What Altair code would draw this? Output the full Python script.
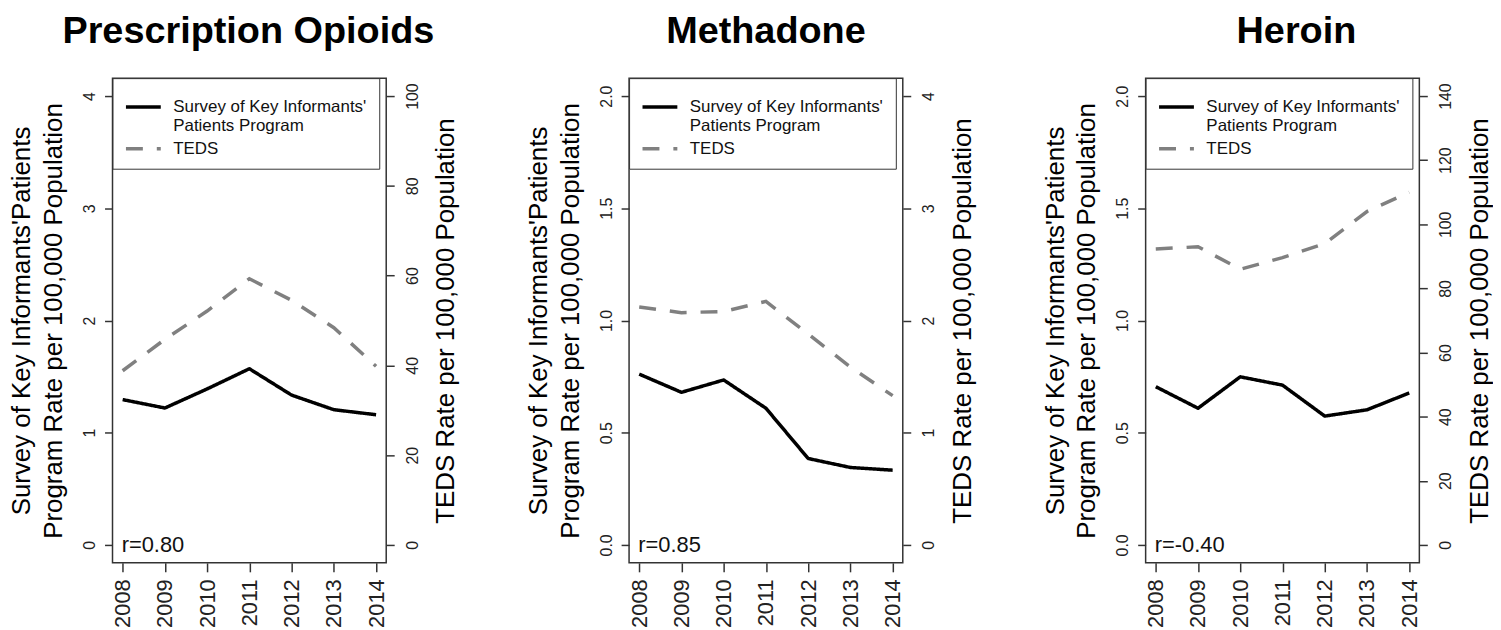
import altair as alt
import pandas as pd

years = [2008, 2009, 2010, 2011, 2012, 2013, 2014]
panel_titles = ["Prescription Opioids", "Methadone", "Heroin"]
title_dx = [-1, 0, 14]

survey_opioids = [1.295, 1.22, 1.39, 1.57, 1.335, 1.205, 1.16]
teds_opioids = [38.8, 45.8, 52.1, 59.3, 54.5, 48.4, 39.8]

survey_methadone = [0.761, 0.680, 0.735, 0.609, 0.385, 0.345, 0.333]
teds_methadone = [2.12, 2.07, 2.08, 2.17, 1.88, 1.585, 1.33]

survey_heroin = [0.705, 0.609, 0.749, 0.712, 0.574, 0.602, 0.677]
teds_heroin = [92.3, 93.0, 86.0, 89.6, 94.0, 104.0, 110.0]

r_labels = ["r=0.80", "r=0.85", "r=-0.40"]

left_ticks = [[0, 1, 2, 3, 4], [0, 0.5, 1.0, 1.5, 2.0], [0, 0.5, 1.0, 1.5, 2.0]]
left_formats = ["d", ".1f", ".1f"]
right_ticks = [[0, 20, 40, 60, 80, 100], [0, 1, 2, 3, 4], [0, 20, 40, 60, 80, 100, 120, 140]]

SURVEY = "Survey of Key Informants'"
TEDS = "TEDS"
left_title = ["Survey of Key Informants'Patients", "Program Rate per 100,000 Population"]
right_title = "TEDS Rate per 100,000 Population"

surveys = [survey_opioids, survey_methadone, survey_heroin]
teds_all = [teds_opioids, teds_methadone, teds_heroin]

FONT = "Liberation Sans"
W, H = 275, 487


def expand(lo, hi):
    d = (hi - lo) * 0.04
    return [lo - d, hi + d]


def panel(i):
    df_s = pd.DataFrame({"year": years, "rate": surveys[i], "series": SURVEY})
    df_t = pd.DataFrame({"year": years, "rate": teds_all[i], "series": TEDS})
    df_r = pd.DataFrame({"year": [years[0]], "rate": [0.0], "label": [r_labels[i]]})

    xenc = alt.X(
        "year:Q",
        scale=alt.Scale(domain=expand(2008, 2014), nice=False, zero=False),
        axis=alt.Axis(values=years, format="d", title=None, labelAngle=-90,
                      labelAlign="right", labelBaseline="middle", labelFontSize=22,
                      labelPadding=7, tickSize=9, labelOverlap=False, labelFlush=False),
    )
    color_scale = alt.Scale(domain=[SURVEY, TEDS], range=["#000000", "#808080"])
    dash_scale = alt.Scale(domain=[SURVEY, TEDS], range=[[1, 0], [17, 14]])
    legend = alt.Legend(
        orient="top-left", offset=0, padding=12, strokeColor="#333", fillColor="white",
        symbolType="M-1.75,0H1.75", symbolSize=400, symbolStrokeWidth=3.5,
        symbolOffset=7,
        labelFontSize=17, labelFont=FONT, labelColor="#111", labelLimit=400,
        labelOffset=18, rowPadding=3, title=" ", titleFontSize=3, titlePadding=2,
        labelExpr="datum.label == 'TEDS' ? 'TEDS' : [\"Survey of Key Informants'\", 'Patients Program']",
    )
    lt = left_ticks[i]
    yl = alt.Y(
        "rate:Q",
        scale=alt.Scale(domain=expand(lt[0], lt[-1]), nice=False, zero=False),
        axis=alt.Axis(values=lt, format=left_formats[i], title=left_title, orient="left",
                      labelAngle=-90, labelAlign="center", labelBaseline="bottom",
                      labelFontSize=16, labelPadding=7, tickSize=8, labelFlush=False,
                      labelOverlap=False, titleFontSize=26, titleLineHeight=32,
                      titleAngle=-90, titleAlign="center", titleBaseline="middle",
                      titleX=-91),
    )
    rt = right_ticks[i]
    yr = alt.Y(
        "rate:Q",
        scale=alt.Scale(domain=expand(rt[0], rt[-1]), nice=False, zero=False),
        axis=alt.Axis(values=rt, format="d", title=right_title, orient="right",
                      labelAngle=-90, labelAlign="center", labelBaseline="top",
                      labelFontSize=16, labelPadding=10, tickSize=8, labelFlush=False,
                      labelOverlap=False, titleFontSize=26,
                      titleAngle=-90, titleAlign="center", titleBaseline="middle",
                      titleX=60),
    )

    survey_line = alt.Chart(df_s).mark_line(strokeWidth=3.5, strokeJoin="round").encode(
        x=xenc, y=yl,
        color=alt.Color("series:N", scale=color_scale, legend=legend),
        strokeDash=alt.StrokeDash("series:N", scale=dash_scale, legend=legend),
    )
    r_text = alt.Chart(df_r).mark_text(align="left", baseline="middle", fontSize=22,
                                       font=FONT, color="#111", dx=-1).encode(
        x=alt.X("year:Q"), y=alt.Y("rate:Q"), text="label:N")
    teds_line = alt.Chart(df_t).mark_line(strokeWidth=3.5).encode(
        x=xenc, y=yr,
        color=alt.Color("series:N", scale=color_scale, legend=legend),
        strokeDash=alt.StrokeDash("series:N", scale=dash_scale, legend=legend),
    )
    left = alt.layer(survey_line, r_text)
    return alt.layer(left, teds_line).resolve_scale(y="independent").properties(
        width=W, height=H,
        title=alt.Title(panel_titles[i], fontSize=38, fontWeight="bold", font=FONT,
                        anchor="middle", frame="group", offset=-3, baseline="alphabetic",
                        color="#000", dx=title_dx[i]),
    )


chart = alt.hconcat(panel(0), panel(1), panel(2), spacing=244, bounds="flush").resolve_scale(
    color="independent", strokeDash="independent"
).configure_view(stroke="#333", strokeWidth=1.5).configure_axis(
    labelFont=FONT, titleFont=FONT, labelColor="#222", titleColor="#000",
    titleFontWeight="normal", tickColor="#333", tickWidth=1.5, domain=False, grid=False,
).properties(padding={"left": 0, "top": 2, "right": 0, "bottom": 0})

chart.save("out.html", embed_options={"renderer": "svg", "actions": False})
